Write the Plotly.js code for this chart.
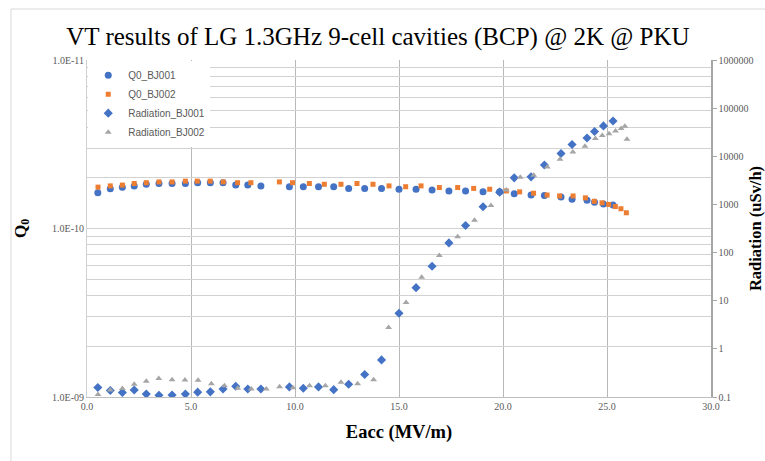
<!DOCTYPE html>
<html>
<head>
<meta charset="utf-8">
<script src="https://cdn.plot.ly/plotly-3.0.1.min.js"></script>
<style>
html,body{margin:0;padding:0;background:#fff;}
#chart{width:765px;height:461px;}
</style>
</head>
<body>
<div id="chart"></div>
<script>
// Eacc (MV/m) for cavity BJ001 (Q0 and radiation share the points)
const E_BJ001 = [0.52,1.12,1.70,2.27,2.85,3.46,4.09,4.73,5.32,5.93,6.54,7.15,7.73,8.36,9.73,10.40,11.13,11.86,12.58,13.35,14.16,15.00,15.82,16.59,17.40,18.20,19.04,19.84,20.54,21.35,21.99,22.79,23.32,24.04,24.40,24.83,25.29];
const Q0_BJ001 = [1.63e10,1.72e10,1.76e10,1.79e10,1.83e10,1.85e10,1.85e10,1.85e10,1.87e10,1.87e10,1.87e10,1.81e10,1.81e10,1.79e10,1.77e10,1.77e10,1.77e10,1.77e10,1.73e10,1.73e10,1.73e10,1.71e10,1.71e10,1.69e10,1.67e10,1.67e10,1.65e10,1.65e10,1.61e10,1.58e10,1.57e10,1.54e10,1.49e10,1.47e10,1.43e10,1.40e10,1.38e10];
const RAD_BJ001 = [0.158,0.136,0.124,0.140,0.115,0.109,0.110,0.115,0.126,0.128,0.147,0.167,0.147,0.147,0.162,0.152,0.162,0.142,0.184,0.294,0.59,5.5,18.7,51.8,159,365,896,1800,3565,3740,6590,11440,17520,23950,32700,42800,54100];

// Cavity BJ002
const E_Q0_BJ002 = [0.53,1.12,1.70,2.27,2.85,3.46,4.09,4.73,5.30,5.92,6.55,7.24,7.88,9.25,9.88,10.69,11.41,12.21,12.98,13.75,14.52,15.32,16.06,16.94,17.82,18.59,19.36,20.16,20.80,21.47,22.12,22.72,23.37,23.96,24.39,24.76,25.08,25.40,25.67,25.93];
const Q0_BJ002 = [1.76e10,1.79e10,1.81e10,1.85e10,1.87e10,1.89e10,1.89e10,1.91e10,1.91e10,1.91e10,1.89e10,1.87e10,1.87e10,1.89e10,1.87e10,1.85e10,1.83e10,1.83e10,1.85e10,1.83e10,1.79e10,1.77e10,1.79e10,1.75e10,1.75e10,1.73e10,1.71e10,1.67e10,1.65e10,1.62e10,1.58e10,1.56e10,1.56e10,1.52e10,1.45e10,1.42e10,1.39e10,1.35e10,1.31e10,1.24e10];
const E_RAD_BJ002 = [0.53,1.12,1.70,2.27,2.85,3.45,4.09,4.71,5.34,5.98,6.61,7.25,7.90,8.62,9.26,9.90,10.70,11.46,12.21,13.01,13.78,14.50,15.34,16.09,16.94,17.82,18.63,19.42,20.16,20.83,21.48,22.13,22.74,23.36,23.94,24.44,24.77,25.10,25.41,25.68,25.86,25.96];
const RAD_BJ002 = [0.113,0.140,0.150,0.185,0.212,0.243,0.228,0.226,0.223,0.189,0.172,0.152,0.147,0.147,0.163,0.156,0.172,0.172,0.202,0.189,0.229,2.78,9.2,30.6,86.6,212,471,953,2005,3650,4020,5960,8660,12300,16150,23370,27000,29400,33650,37750,42170,22600];

// Axis ticks
const X_TICKS = [0,5,10,15,20,25,30];
const Q_DECADES = [1e9,1e10,1e11];
const Q_DECADE_LABELS = ["1.0E-09","1.0E-10","1.0E-11"];
const RAD_TICKS = [0.1,1,10,100,1000,10000,100000,1000000];
const RAD_LABELS = ["0.1","1","10","100","1000","10000","100000","1000000"];

// left axis: decades labelled, 2..9 multiples as unlabelled gridlines
const qTickVals = [], qTickText = [];
Q_DECADES.forEach((d, i) => {
  qTickVals.push(d); qTickText.push(Q_DECADE_LABELS[i]);
  if (i < Q_DECADES.length - 1) {
    for (let m = 2; m <= 9; m++) { qTickVals.push(d * m); qTickText.push(" "); }
  }
});

const BLUE = "#4472C4", ORANGE = "#ED7D31", GREY = "#A5A5A5";

const traces = [
  {x: E_BJ001, y: Q0_BJ001, name: "Q0_BJ001", type: "scatter", mode: "markers",
   marker: {symbol: "circle", size: 7, color: BLUE}, yaxis: "y"},
  {x: E_Q0_BJ002, y: Q0_BJ002, name: "Q0_BJ002", type: "scatter", mode: "markers",
   marker: {symbol: "square", size: 5, color: ORANGE}, yaxis: "y"},
  {x: E_BJ001, y: RAD_BJ001, name: "Radiation_BJ001", type: "scatter", mode: "markers",
   marker: {symbol: "diamond", size: 7, color: BLUE}, yaxis: "y2"},
  {x: E_RAD_BJ002, y: RAD_BJ002, name: "Radiation_BJ002", type: "scatter", mode: "markers",
   marker: {symbol: "triangle-up", size: 6, color: GREY}, yaxis: "y2"}
];

const tickFont = {family: "Liberation Serif, Times New Roman, serif", size: 10, color: "#595959"};
const serif = "Liberation Serif, Times New Roman, serif";

const layout = {
  width: 765, height: 461,
  margin: {l: 87, r: 54, t: 60, b: 64},
  paper_bgcolor: "#fff", plot_bgcolor: "#fff",
  showlegend: true,
  title: {
    text: "VT results of LG 1.3GHz 9-cell cavities (BCP) @ 2K @ PKU",
    font: {family: serif, size: 25, color: "#000"},
    x: 0.494, xref: "container", xanchor: "center",
    y: 0.922, yref: "container", yanchor: "middle"
  },
  xaxis: {
    range: [0, 30], tickmode: "array", tickvals: X_TICKS, tickformat: ".1f",
    showgrid: true, gridcolor: "#b8b8b8", gridwidth: 1,
    showline: true, linecolor: "#bfbfbf", linewidth: 1, zeroline: false,
    ticks: "", tickfont: tickFont,
    title: {text: "<b>Eacc (MV/m)</b>", font: {family: serif, size: 18.5, color: "#000"}, standoff: 14}
  },
  yaxis: {
    type: "log", range: [9, 11], tickmode: "array", tickvals: qTickVals, ticktext: qTickText,
    showgrid: true, gridcolor: "#d2d2d2", gridwidth: 1,
    showline: true, linecolor: "#d0d0d0", zeroline: false,
    ticks: "", tickfont: tickFont,
    title: {text: "<b>Q<sub>0</sub></b>", font: {family: serif, size: 17, color: "#000"}, standoff: 21}
  },
  yaxis2: {
    type: "log", range: [-1, 6], overlaying: "y", side: "right",
    tickmode: "array", tickvals: RAD_TICKS, ticktext: RAD_LABELS,
    showgrid: false, showline: true, linecolor: "#a6a6a6", linewidth: 1.5, zeroline: false,
    ticks: "outside", ticklen: 4, tickcolor: "#a6a6a6", tickfont: tickFont,
    title: {text: "<b>Radiation (uSv/h)</b>", font: {family: serif, size: 16.5, color: "#000"}, standoff: 5}
  },
  legend: {
    x: 0.002, y: 0.998, xanchor: "left", yanchor: "top",
    bgcolor: "#ffffff", borderwidth: 0,
    font: {family: "Liberation Sans, Arial, sans-serif", size: 10, color: "#595959"},
    itemwidth: 30, tracegroupgap: 0
  },
  shapes: [{
    type: "rect", xref: "paper", yref: "paper",
    x0: (11 - 87) / 624, x1: (800 - 87) / 624,
    y0: (397 - 9) / 337, y1: (397 - 480) / 337,
    line: {color: "#d9d9d9", width: 1}, fillcolor: "rgba(0,0,0,0)", layer: "below"
  }]
};

Plotly.newPlot("chart", traces, layout, {displayModeBar: false, staticPlot: true});
</script>
</body>
</html>
